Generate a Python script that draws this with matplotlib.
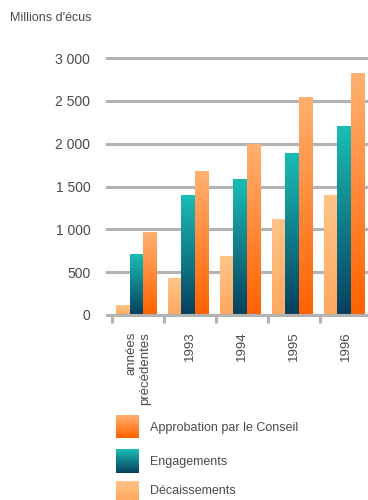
import numpy as np
import matplotlib
matplotlib.use("Agg")
import matplotlib.pyplot as plt
from matplotlib.colors import LinearSegmentedColormap
from matplotlib import font_manager

categories = ["années\nprécédentes", "1993", "1994", "1995", "1996"]
decaissements = [110, 430, 680, 1110, 1390]
engagements = [710, 1390, 1580, 1890, 2200]
approbation = [960, 1670, 1990, 2540, 2820]
yticks = [0, 500, 1000, 1500, 2000, 2500, 3000]
ytick_labels = ["0", "500", "1 000", "1 500", "2 000", "2 500", "3 000"]
series_names = ["Approbation par le Conseil", "Engagements", "Décaissements"]

fams = [f.name for f in font_manager.fontManager.ttflist]
fam = ["Liberation Sans Narrow", "DejaVu Sans"] if "Liberation Sans Narrow" in fams else ["Liberation Sans", "DejaVu Sans"]
plt.rcParams["font.family"] = fam
TXT = "#4a4a4a"
GRID = "#b3b3b3"

grads = {
    "dec": ("#ffc488", "#ffa860"),
    "eng": ("#1bbcb6", "#07405e"),
    "app": ("#ffb070", "#ff6200"),
}
cmaps = {k: LinearSegmentedColormap.from_list(k, [v[1], v[0]]) for k, v in grads.items()}
grad_img = np.linspace(0, 1, 64).reshape(-1, 1)

W, H = 368, 500
fig = plt.figure(figsize=(W / 100, H / 100), dpi=100)
fig.patch.set_facecolor("white")

x_left, x_right = 107, 377
y_top, y_bot = 58, 315
ax = fig.add_axes([x_left / W, 1 - y_bot / H, (x_right - x_left) / W, (y_bot - y_top) / H])
ax.set_facecolor("none")
for s in ax.spines.values():
    s.set_visible(False)

for yv in yticks[1:]:
    ax.axhline(yv, color=GRID, lw=2.2, zorder=0, clip_on=False)
ax.axhline(0, color=GRID, lw=2.2, zorder=3, clip_on=False)

bw = 0.265
offs = [-bw, 0, bw]
series = [("dec", decaissements), ("eng", engagements), ("app", approbation)]
xs = np.arange(len(categories)) - 0.03
for (key, vals), off in zip(series, offs):
    bars = ax.bar(xs + off, vals, width=bw, color="none", edgecolor="none", zorder=2)
    for b in bars:
        x0 = b.get_x()
        ax.imshow(grad_img, cmap=cmaps[key], origin="lower", aspect="auto",
                  extent=[x0, x0 + b.get_width(), 0, b.get_height()], zorder=2)
ax.set_xlim(-0.596, 4.6)
ax.set_ylim(0, 3000)

ax.set_yticks(yticks)
ax.set_yticklabels(ytick_labels)
ax.tick_params(axis="y", length=0, pad=12, labelsize=10, labelcolor=TXT)

ax.set_xticks(np.arange(len(categories)))
ax.set_xticklabels(categories, rotation=90, va="top", ha="center", multialignment="right")
ax.tick_params(axis="x", which="major", length=0, pad=12, labelsize=9.5, labelcolor=TXT)
ax.set_xticks(np.arange(len(categories) + 1) - 0.5, minor=True)
ax.tick_params(axis="x", which="minor", length=6, width=2.2, color=GRID, direction="out")

fig.text(10 / W, 1 - 18 / H, "Millions d'écus", fontsize=9, color=TXT, va="center", ha="left")

lax = fig.add_axes([0, 0, 1, 1])
lax.axis("off")
leg = [("app", 415, 438, series_names[0]), ("eng", 449, 473, series_names[1]), ("dec", 481, 500, series_names[2])]
for key, y0, y1, name in leg:
    lax.imshow(grad_img, cmap=cmaps[key], origin="lower", aspect="auto",
               extent=[116, 139, y1, y0])
    lax.text(150, (y0 + y1) / 2 + (1 if key != "dec" else 0), name, fontsize=9, color=TXT, va="center", ha="left")
lax.set_xlim(0, W)
lax.set_ylim(H, 0)

fig.savefig("out.png", dpi=100)
